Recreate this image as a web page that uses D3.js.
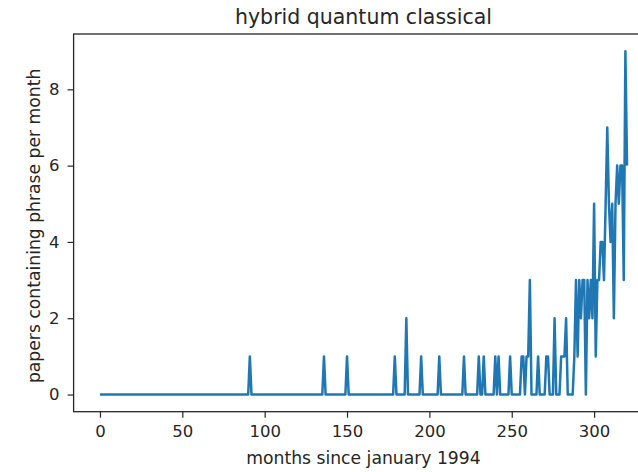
<!DOCTYPE html>
<html>
<head>
<meta charset="utf-8">
<script src="https://cdn.jsdelivr.net/npm/d3@7"></script>
<style>
  body { margin: 0; background: #fff; }
  svg text { font-family: "DejaVu Sans", sans-serif; fill: #262626; }
  .tick line { stroke: #262626; stroke-width: 1.2; }
</style>
</head>
<body>
<div id="chart"></div>
<script>
// papers per month containing "hybrid quantum classical", month 0 = january 1994
const counts = [
  0, 0, 0, 0, 0, 0, 0, 0, 0, 0, 0, 0, 0, 0, 0, 0, 0, 0, 0, 0,   // 0-19
  0, 0, 0, 0, 0, 0, 0, 0, 0, 0, 0, 0, 0, 0, 0, 0, 0, 0, 0, 0,   // 20-39
  0, 0, 0, 0, 0, 0, 0, 0, 0, 0, 0, 0, 0, 0, 0, 0, 0, 0, 0, 0,   // 40-59
  0, 0, 0, 0, 0, 0, 0, 0, 0, 0, 0, 0, 0, 0, 0, 0, 0, 0, 0, 0,   // 60-79
  0, 0, 0, 0, 0, 0, 0, 0, 0, 0, 0, 1, 0, 0, 0, 0, 0, 0, 0, 0,   // 80-99
  0, 0, 0, 0, 0, 0, 0, 0, 0, 0, 0, 0, 0, 0, 0, 0, 0, 0, 0, 0,   // 100-119
  0, 0, 0, 0, 0, 0, 0, 0, 0, 0, 0, 0, 0, 0, 0, 0, 1, 0, 0, 0,   // 120-139
  0, 0, 0, 0, 0, 0, 0, 0, 0, 0, 1, 0, 0, 0, 0, 0, 0, 0, 0, 0,   // 140-159
  0, 0, 0, 0, 0, 0, 0, 0, 0, 0, 0, 0, 0, 0, 0, 0, 0, 0, 0, 1,   // 160-179
  0, 0, 0, 0, 0, 0, 2, 0, 0, 0, 0, 0, 0, 0, 0, 1, 0, 0, 0, 0,   // 180-199
  0, 0, 0, 0, 0, 0, 1, 0, 0, 0, 0, 0, 0, 0, 0, 0, 0, 0, 0, 0,   // 200-219
  0, 1, 0, 0, 0, 0, 0, 0, 0, 0, 1, 0, 0, 1, 0, 0, 0, 0, 0, 0,   // 220-239
  1, 0, 1, 0, 0, 0, 0, 0, 0, 1, 0, 0, 0, 0, 0, 0, 1, 1, 0, 1,   // 240-259
  1, 3, 0, 0, 0, 0, 1, 0, 0, 0, 0, 1, 1, 0, 0, 0, 2, 0, 0, 0,   // 260-279
  1, 1, 1, 2, 0, 0, 0, 0, 1, 3, 1, 3, 2, 3, 3, 0, 3, 2, 3, 2,   // 280-299
  5, 1, 3, 3, 4, 4, 3, 5, 7, 5, 4, 5, 2, 5, 6, 5, 6, 6, 3, 9,   // 300-319
  6                                                             // 320
];
const months = d3.range(counts.length);

const xTicks = [0, 50, 100, 150, 200, 250, 300];
const yTicks = [0, 2, 4, 6, 8];

const titleText = "hybrid quantum classical";
const xLabel = "months since january 1994";
const yLabel = "papers containing phrase per month";

const W = 638, H = 472;
// axes box (right edge runs past the picture edge, as in the original)
const box = { left: 73.6, right: 653.4, top: 34, bottom: 411.7 };

const svg = d3.select("#chart").append("svg")
    .attr("width", W)
    .attr("height", H);

const x = d3.scaleLinear()
    .domain([-16, 336])
    .range([box.left, box.right]);

const y = d3.scaleLinear()
    .domain([-0.45, 9.45])
    .range([box.bottom, box.top]);

// line
const line = d3.line()
    .x((d, i) => x(months[i]))
    .y(d => y(d));

svg.append("path")
    .datum(counts)
    .attr("fill", "none")
    .attr("stroke", "#1f77b4")
    .attr("stroke-width", 2.5)
    .attr("stroke-linejoin", "round")
    .attr("d", line);

// frame
svg.append("rect")
    .attr("x", box.left)
    .attr("y", box.top)
    .attr("width", box.right - box.left)
    .attr("height", box.bottom - box.top)
    .attr("fill", "none")
    .attr("stroke", "#262626")
    .attr("stroke-width", 1.3);

// axes
const xAxis = svg.append("g")
    .attr("transform", `translate(0,${box.bottom})`)
    .call(d3.axisBottom(x).tickValues(xTicks).tickSize(6).tickPadding(8));
xAxis.select(".domain").remove();
xAxis.selectAll("text").style("font-size", "16.5px");

const yAxis = svg.append("g")
    .attr("transform", `translate(${box.left},0)`)
    .call(d3.axisLeft(y).tickValues(yTicks).tickSize(6).tickPadding(8));
yAxis.select(".domain").remove();
yAxis.selectAll("text").style("font-size", "16.5px");

// labels
svg.append("text")
    .attr("x", (box.left + box.right) / 2)
    .attr("y", 24)
    .attr("text-anchor", "middle")
    .style("font-size", "20.5px")
    .text(titleText);

svg.append("text")
    .attr("x", (box.left + box.right) / 2)
    .attr("y", 464)
    .attr("text-anchor", "middle")
    .style("font-size", "17.2px")
    .text(xLabel);

svg.append("text")
    .attr("transform", `translate(40,${(box.top + box.bottom) / 2 + 3}) rotate(-90)`)
    .attr("text-anchor", "middle")
    .style("font-size", "17.2px")
    .text(yLabel);
</script>
</body>
</html>
